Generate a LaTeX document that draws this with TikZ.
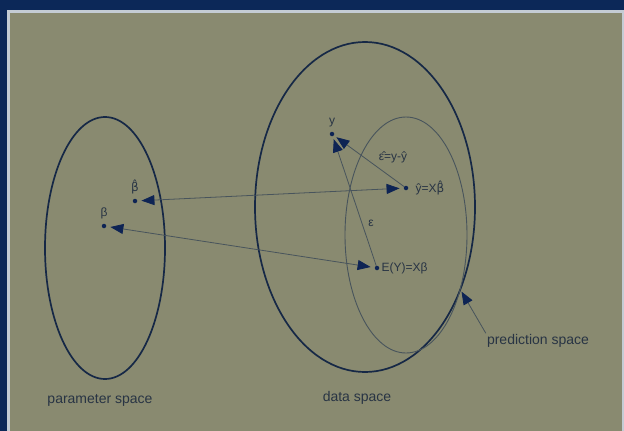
\documentclass[tikz,border=0pt]{standalone}
\usepackage{fontspec}
\setmainfont{Liberation Sans}
\newfontfamily\hatfont{DejaVu Sans}
\usetikzlibrary{positioning,arrows.meta}
\definecolor{colorbg}   {RGB}{137,138,112}
\definecolor{colorframe}{RGB}{12 ,40 ,88 }
\definecolor{coloredge} {RGB}{196,204,212}
\definecolor{colorline} {RGB}{72 ,84 ,92 }
\definecolor{colorring} {RGB}{22 ,40 ,70 }
\definecolor{colortext} {RGB}{40 ,52 ,68 }
\definecolor{colorhead} {RGB}{14 ,36 ,84 }

\begin{document}
\begin{tikzpicture}[
    x=1pt, y=-1pt,
    node distance = 2pt,
    txt/.style={text=colortext,font={\fontsize{14}{16}\selectfont},inner sep=1pt},
    txtsm/.style={txt,font={\fontsize{12}{14}\selectfont}},
    dot/.style={circle,fill=colorhead,inner sep=0pt,minimum size=4.5pt},
    ring/.style={draw=colorring,line width=1.7pt},
    ringthin/.style={draw=colorline,line width=0.9pt},
    link/.style={draw=colorline,line width=0.8pt},
    tip/.tip={Triangle[length=13pt,width=10pt,color=colorhead]},
    both/.style={link,tip-tip,shorten <=4pt,shorten >=4pt},
    back/.style={link,tip-,shorten <=3pt},
]

    % frame and background
    \useasboundingbox (0,0) rectangle (624,431);
    \fill[colorbg]    (0,0) rectangle (624,431);
    \fill[colorframe] (0,0) rectangle (624,10);
    \fill[colorframe] (0,0) rectangle (7,431);
    \fill[coloredge]  (7,10) rectangle (624,13);
    \fill[coloredge]  (7,10) rectangle (10,431);
    \fill[coloredge]  (622,13) rectangle (624,431);

    % the three spaces
    \draw[ring]     (105,248) ellipse [x radius=60,  y radius=131];
    \draw[ring]     (365,207) ellipse [x radius=110, y radius=165];
    \draw[ringthin] (406,235) ellipse [x radius=61,  y radius=118];

    % points
    \node[dot] (beta)    at (104,226) {};
    \node[dot] (betahat) at (135,201) {};
    \node[dot] (y)       at (332,134) {};
    \node[dot] (yhat)    at (406,188) {};
    \node[dot] (ey)      at (377,268) {};

    \node[txtsm,above=3pt of beta]    (betalbl)    {β};
    \node[txtsm,above=3pt of betahat] (betahatlbl) {{\hatfont β̂}};
    \node[txtsm,above=3pt of y]       (ylbl)       {y};
    \node[txtsm,right=6pt of yhat]    (yhatlbl)    {ŷ=X{\hatfont β̂}};
    \node[txtsm,right=1pt of ey]      (eylbl)      {E(Y)=Xβ};

    % connectors
    \draw[both] (betahat) -- (yhat);
    \draw[both] (beta)    -- (ey);
    \draw[back] (y)       -- (yhat);
    \draw[back] (y)       -- (ey);

    \node[txtsm] (epshat) at (393,157) {ε̂=y-ŷ};
    \node[txtsm] (eps)    at (371,223) {ε};

    % labels of the spaces
    \node[txt] (param) at (100,400) {parameter space};
    \node[txt] (data)  at (357,398) {data space};
    \node[txt] (pred)  at (538,341) {prediction space};
    \coordinate (predpt) at (460,289);
    \draw[back] (predpt) -- (pred.north west);

\end{tikzpicture}
\end{document}
